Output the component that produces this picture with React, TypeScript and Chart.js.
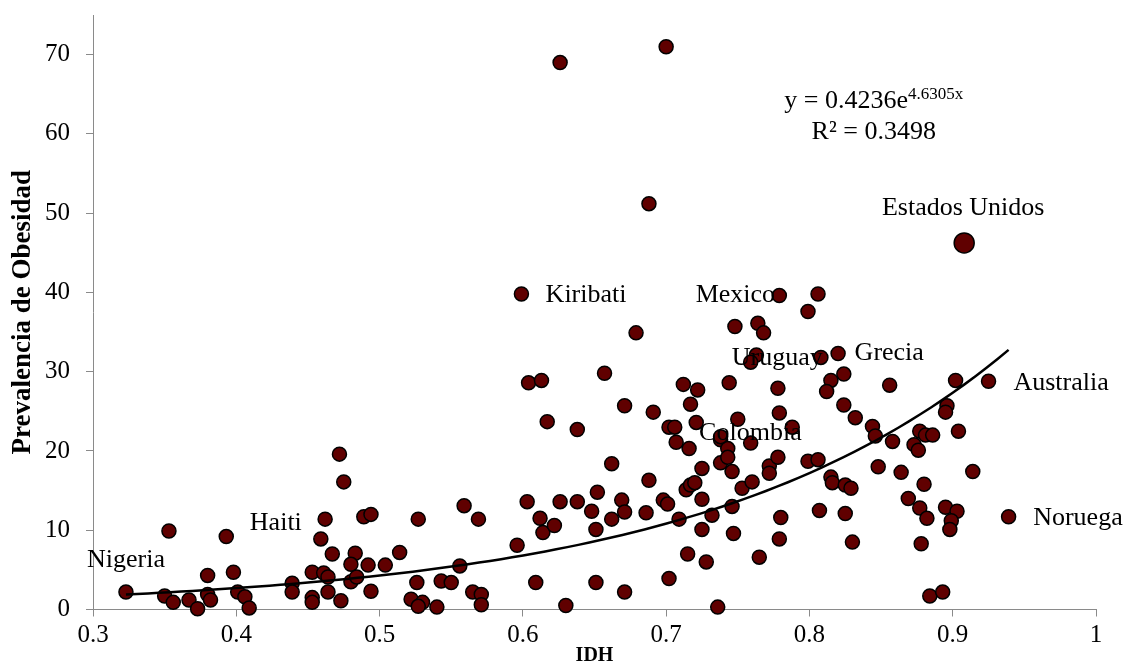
import React, { useEffect, useRef } from 'react';
import { Chart, registerables } from 'chart.js';

Chart.register(...registerables);

// IDH (x) and prevalence of obesity (y) per country
const IDH = [
  0.323, 0.350, 0.356, 0.353, 0.367, 0.373, 0.380, 0.380, 0.382, 0.393,
  0.398, 0.401, 0.406, 0.409, 0.439, 0.439, 0.453, 0.453, 0.453, 0.461,
  0.464, 0.464, 0.459, 0.462, 0.467, 0.473, 0.472, 0.475, 0.483, 0.480,
  0.480, 0.484, 0.492, 0.489, 0.494, 0.494, 0.504, 0.514, 0.527, 0.526,
  0.522, 0.530, 0.527, 0.540, 0.543, 0.550, 0.556, 0.559, 0.565, 0.571,
  0.571, 0.569, 0.596, 0.603, 0.612, 0.614, 0.622, 0.609, 0.630, 0.626,
  0.638, 0.617, 0.638, 0.652, 0.648, 0.651, 0.651, 0.662, 0.662, 0.669,
  0.671, 0.671, 0.688, 0.686, 0.698, 0.701, 0.702, 0.702, 0.709, 0.707,
  0.716, 0.738, 0.743, 0.759, 0.714, 0.717, 0.720, 0.725, 0.725, 0.732,
  0.725, 0.738, 0.743, 0.746, 0.753, 0.760, 0.746, 0.747, 0.715, 0.728,
  0.765, 0.772, 0.772, 0.778, 0.780, 0.779, 0.799, 0.806, 0.807, 0.736,
  0.679, 0.657, 0.671, 0.691, 0.712, 0.722, 0.717, 0.706, 0.721, 0.744,
  0.748, 0.764, 0.768, 0.779, 0.799, 0.806, 0.763, 0.759, 0.778, 0.779,
  0.788, 0.750, 0.738, 0.626, 0.700, 0.688, 0.599, 0.604, 0.613, 0.820,
  0.808, 0.824, 0.815, 0.812, 0.856, 0.902, 0.925, 0.824, 0.832, 0.844,
  0.846, 0.858, 0.896, 0.895, 0.877, 0.881, 0.886, 0.873, 0.876, 0.904,
  0.848, 0.864, 0.914, 0.815, 0.816, 0.825, 0.829, 0.880, 0.869, 0.877,
  0.882, 0.895, 0.903, 0.899, 0.898, 0.825, 0.830, 0.878, 0.939, 0.884,
  0.893,
];

const OBESIDAD = [
  2.2, 1.7, 0.9, 9.9, 1.2, 0.1, 4.3, 1.9, 1.2, 9.2,
  4.7, 2.2, 1.6, 0.2, 3.3, 2.2, 1.5, 0.9, 4.7, 4.6,
  4.1, 2.2, 8.9, 11.4, 7.0, 1.1, 19.6, 16.1, 7.1, 5.7,
  3.5, 4.1, 5.6, 11.7, 12.0, 2.3, 5.6, 7.2, 11.4, 3.4,
  1.3, 0.9, 0.4, 0.3, 3.6, 3.4, 5.5, 13.1, 2.2, 1.9,
  0.6, 11.4, 8.1, 13.6, 11.5, 9.7, 10.6, 3.4, 0.5, 13.6,
  13.6, 23.7, 22.7, 14.8, 12.4, 10.1, 3.4, 18.4, 11.4, 13.8,
  12.3, 2.2, 16.3, 12.2, 13.8, 13.3, 3.9, 23.0, 11.4, 21.1,
  20.3, 21.4, 20.3, 21.0, 15.1, 15.7, 16.0, 17.8, 13.9, 11.9,
  10.1, 18.5, 19.2, 17.4, 15.3, 16.1, 13.0, 9.6, 7.0, 6.0,
  6.6, 18.1, 17.2, 19.2, 11.6, 8.9, 18.7, 18.9, 12.5, 0.3,
  34.9, 29.8, 25.7, 24.9, 28.4, 27.7, 25.9, 23.0, 23.6, 28.6,
  35.7, 36.1, 34.9, 39.6, 37.6, 39.8, 32.1, 31.2, 27.9, 24.8,
  23.0, 24.0, 21.8, 69.0, 71.0, 51.2, 39.8, 28.6, 28.9, 32.3,
  31.8, 29.7, 28.9, 27.5, 28.3, 28.9, 28.8, 25.8, 24.2, 23.1,
  21.9, 21.2, 25.7, 24.9, 22.5, 22.0, 22.0, 20.8, 20.1, 22.5,
  18.0, 17.3, 17.4, 16.7, 16.0, 15.7, 15.3, 15.8, 14.0, 12.8,
  11.5, 12.9, 12.4, 11.2, 10.1, 12.1, 8.5, 8.3, 11.7, 1.7,
  2.2,
];

// Highlighted point: Estados Unidos
const USA_IDH = [0.908];
const USA_OBESIDAD = [46.25];

// Country labels (text centre, in data units)
const LABEL_NAMES = ['Nigeria', 'Haiti', 'Kiribati', 'Mexico', 'Uruguay', 'Colombia', 'Grecia', 'Australia', 'Noruega', 'Estados Unidos'];
const LABEL_IDH = [0.323, 0.4276, 0.6441, 0.7483, 0.7776, 0.7588, 0.8557, 0.9756, 0.9874, 0.9073];
const LABEL_OBESIDAD = [6.17, 10.9, 39.7, 39.7, 31.7, 22.3, 32.4, 28.6, 11.5, 50.6];

// Exponential trendline as printed on the chart
const TREND_A = 0.4236;
const TREND_B = 4.6305;
const TREND_FROM = 0.323;
const TREND_TO = 0.939;
const EQ_MAIN = 'y = 0.4236e';
const EQ_EXP = '4.6305x';
const EQ_R2 = 'R² = 0.3498';
const EQ_IDH = 0.8449;
const EQ_LINE1_OBESIDAD = 63.3;
const EQ_LINE2_OBESIDAD = 59.3;

const X_MIN = 0.3;
const X_MAX = 1.0;
const X_STEP = 0.1;
const Y_MIN = 0;
const Y_MAX = 75;
const Y_STEP = 10;

const SERIF = '"Liberation Serif", "Times New Roman", serif';

const annotationPlugin = {
  id: 'annotations',
  afterDatasetsDraw(chart: any) {
    const { ctx, scales } = chart;
    const xs = scales.x;
    const ys = scales.y;
    ctx.save();
    ctx.fillStyle = '#000';
    ctx.textAlign = 'center';
    ctx.textBaseline = 'middle';
    ctx.font = `26px ${SERIF}`;
    LABEL_NAMES.forEach((name, i) => {
      ctx.fillText(name, xs.getPixelForValue(LABEL_IDH[i]), ys.getPixelForValue(LABEL_OBESIDAD[i]));
    });
    // equation
    ctx.textBaseline = 'alphabetic';
    ctx.textAlign = 'left';
    const mainFont = `26px ${SERIF}`;
    const supFont = `17px ${SERIF}`;
    ctx.font = mainFont;
    const wMain = ctx.measureText(EQ_MAIN).width;
    ctx.font = supFont;
    const wSup = ctx.measureText(EQ_EXP).width;
    const cx = xs.getPixelForValue(EQ_IDH);
    const b1 = ys.getPixelForValue(EQ_LINE1_OBESIDAD);
    const startX = cx - (wMain + wSup) / 2;
    ctx.font = mainFont;
    ctx.fillText(EQ_MAIN, startX, b1);
    ctx.font = supFont;
    ctx.fillText(EQ_EXP, startX + wMain, b1 - 9);
    ctx.font = mainFont;
    ctx.textAlign = 'center';
    ctx.fillText(EQ_R2, cx, ys.getPixelForValue(EQ_LINE2_OBESIDAD));
    ctx.restore();
  },
};

export default function App() {
  const canvasRef = useRef<HTMLCanvasElement | null>(null);

  useEffect(() => {
    document.body.style.margin = '0';
    const canvas = canvasRef.current;
    if (!canvas) return;

    const trend: { x: number; y: number }[] = [];
    const n = 80;
    for (let i = 0; i <= n; i++) {
      const xv = TREND_FROM + ((TREND_TO - TREND_FROM) * i) / n;
      trend.push({ x: xv, y: TREND_A * Math.exp(TREND_B * xv) });
    }

    const points = IDH.map((x, i) => ({ x, y: OBESIDAD[i] }));
    const usa = USA_IDH.map((x, i) => ({ x, y: USA_OBESIDAD[i] }));

    const axisColor = '#8a8a8a';

    const chart = new Chart(canvas, {
      type: 'scatter',
      data: {
        datasets: [
          {
            type: 'line',
            label: 'Tendencia',
            data: trend,
            borderColor: '#000',
            borderWidth: 2.5,
            pointRadius: 0,
            fill: false,
            tension: 0,
            order: 0,
            clip: false,
          } as any,
          {
            label: 'Países',
            data: points,
            backgroundColor: '#600000',
            borderColor: '#000',
            borderWidth: 1.5,
            pointRadius: 7,
            pointHoverRadius: 7,
            order: 1,
            clip: false,
          },
          {
            label: 'Estados Unidos',
            data: usa,
            backgroundColor: '#600000',
            borderColor: '#000',
            borderWidth: 1.5,
            pointRadius: 10,
            pointHoverRadius: 10,
            order: 1,
            clip: false,
          },
        ],
      },
      options: {
        animation: false,
        responsive: false,
        maintainAspectRatio: false,
        events: [],
        layout: { padding: { top: 15, right: 34, left: 0, bottom: 0 } },
        plugins: {
          legend: { display: false },
          tooltip: { enabled: false },
        },
        scales: {
          x: {
            type: 'linear',
            min: X_MIN,
            max: X_MAX,
            ticks: {
              stepSize: X_STEP,
              color: '#000',
              font: { family: SERIF, size: 25 },
              padding: 4,
              maxRotation: 0,
              autoSkip: false,
              callback: (v: any) => String(Math.round(Number(v) * 10) / 10),
            },
            grid: {
              display: true,
              drawOnChartArea: false,
              drawTicks: true,
              tickLength: 7,
              color: axisColor,
              lineWidth: 1,
            },
            border: { display: true, color: axisColor, width: 1 },
            title: {
              display: true,
              text: 'IDH',
              color: '#000',
              font: { family: SERIF, size: 20, weight: 'bold', lineHeight: 0.7 },
              padding: 0,
            },
            afterFit: (s: any) => {
              s.height = 53.5;
              s.paddingLeft = 0;
              s.paddingRight = 0;
            },
          },
          y: {
            type: 'linear',
            min: Y_MIN,
            max: Y_MAX,
            ticks: {
              stepSize: Y_STEP,
              includeBounds: false,
              color: '#000',
              font: { family: SERIF, size: 25 },
              padding: 16,
            },
            grid: {
              display: true,
              drawOnChartArea: false,
              drawTicks: true,
              tickLength: 7,
              color: axisColor,
              lineWidth: 1,
            },
            border: { display: true, color: axisColor, width: 1 },
            title: {
              display: true,
              text: 'Prevalencia de Obesidad',
              color: '#000',
              font: { family: SERIF, size: 27, weight: 'bold', lineHeight: 1.2 },
              padding: { top: 7, bottom: 0 },
            },
            afterFit: (s: any) => {
              s.width = 93;
              s.paddingTop = 0;
              s.paddingBottom = 0;
            },
          },
        },
      } as any,
      plugins: [annotationPlugin],
    });

    return () => {
      chart.destroy();
    };
  }, []);

  return (
    <div style={{ width: 1130, height: 663, position: 'relative', background: '#fff' }}>
      <canvas ref={canvasRef} width={1130} height={663} style={{ display: 'block' }} />
    </div>
  );
}
